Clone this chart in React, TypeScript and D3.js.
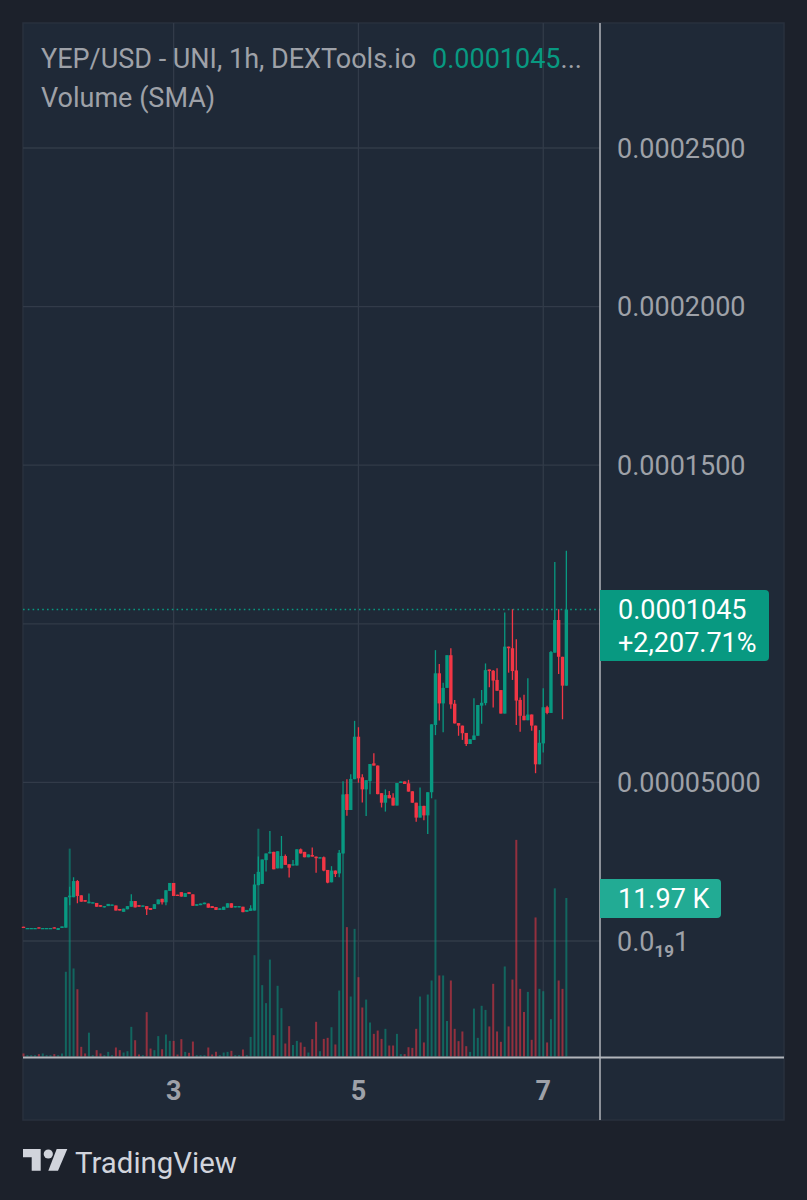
import React from "react";
import * as d3 from "d3";

// prices in millionths of a USD
const opens = [4.5,4.0,4.0,4.0,4.3,4.0,4.0,4.0,4.3,3.5,4.1,4.2,13.8,13.8,18.9,14.4,12.9,11.9,11.9,12.0,11.3,10.6,11.0,11.2,11.2,10.1,9.2,10.0,10.8,12.6,11.3,10.8,11.0,10.4,10.1,11.6,13.3,12.2,15.8,18.3,14.6,15.4,13.9,15.4,14.7,11.1,11.3,11.6,11.8,11.0,10.7,9.8,9.8,10.5,11.9,10.6,10.6,10.8,9.2,9.5,9.6,17.6,18.0,25.5,27.6,28.1,22.9,22.9,26.8,24.2,23.8,23.8,28.9,28.1,26.4,27.1,26.6,26.1,26.4,22.4,18.5,22.2,21.3,27.6,46.3,41.3,51.0,64.4,51.6,47.8,50.4,56.0,55.3,46.6,43.6,46.0,45.2,42.7,49.8,50.3,49.7,47.2,43.6,38.9,42.6,39.6,46.9,68.1,84.4,74.9,79.8,90.1,74.8,68.7,67.9,65.6,62.1,63.4,64.7,74.2,75.0,85.6,85.2,82.3,79.1,71.7,92.8,92.3,85.3,76.0,71.0,69.6,71.4,67.9,55.7,62.3,73.7,71.9,90.9,101.2,89.6,80.5];
const highs = [4.5,4.1,4.1,4.1,4.3,4.1,4.1,4.1,4.3,4.1,4.6,13.8,17.1,20.1,19.2,14.4,12.9,15.0,12.2,12.0,11.3,11.0,11.7,11.5,11.2,10.1,10.2,11.0,14.7,12.6,11.3,11.2,11.0,10.4,11.6,13.1,13.3,16.0,18.3,18.3,14.6,15.4,15.1,15.4,14.7,11.6,11.8,12.1,11.8,11.0,10.7,10.3,10.8,11.9,11.9,11.0,11.0,10.8,9.8,11.3,21.1,26.6,25.7,27.6,34.7,28.1,28.3,33.1,27.3,24.2,25.5,28.9,29.2,28.1,27.3,29.5,26.6,26.4,26.6,22.4,23.6,22.2,28.7,50.4,51.0,52.6,69.4,67.4,52.6,50.7,55.8,59.2,55.3,46.6,47.8,47.3,46.6,49.8,50.3,50.3,50.8,47.2,43.6,48.4,42.6,46.9,68.3,91.7,87.3,81.4,90.1,92.3,76.0,68.7,67.9,65.6,63.6,76.5,74.4,79.1,87.5,85.6,85.4,86.0,79.1,103.6,92.8,104.6,95.1,76.8,77.6,82.8,71.4,67.9,66.5,79.7,74.2,91.4,119.5,104.6,89.6,123.0];
const lows = [4.1,3.9,3.9,3.9,4.0,3.9,3.9,3.9,4.0,3.5,4.1,4.2,11.3,13.8,11.9,12.4,12.4,11.9,11.9,10.8,10.8,10.6,11.0,11.2,9.6,9.6,9.2,10.0,10.8,10.6,10.8,10.8,8.2,9.8,10.1,11.6,11.5,11.3,15.8,14.2,14.2,14.0,13.9,14.8,11.1,11.1,11.3,11.6,10.5,10.4,9.8,9.8,9.8,10.5,10.5,10.6,10.6,9.1,9.2,9.5,9.6,17.6,18.0,21.9,27.6,22.6,22.9,22.9,24.0,20.0,23.8,23.8,27.6,26.4,26.4,26.6,21.5,26.1,22.0,18.2,18.5,20.2,20.1,27.6,39.5,41.3,51.0,49.9,43.7,39.4,46.3,55.3,46.3,42.1,40.8,45.0,42.7,42.7,49.8,49.5,47.1,43.6,37.6,38.9,38.1,33.7,45.0,64.9,69.5,65.8,79.8,73.2,68.6,64.7,63.4,61.5,62.1,63.4,64.7,68.5,74.3,80.0,73.6,78.9,71.7,71.7,84.6,82.3,68.1,66.0,69.6,69.6,66.3,52.9,55.7,59.4,71.5,71.9,90.9,84.2,69.9,80.5];
const closes = [4.1,4.1,4.1,4.1,4.0,4.1,4.1,4.1,4.0,4.1,4.6,13.8,14.3,18.9,14.2,12.4,12.4,12.4,12.2,10.8,10.8,11.0,11.7,11.5,9.6,9.6,10.2,11.0,12.6,10.6,10.8,11.2,10.0,9.8,11.6,13.1,12.2,16.0,18.3,14.2,14.2,14.0,15.1,14.8,11.1,11.6,11.8,12.1,10.5,10.4,9.8,10.3,10.8,11.9,10.5,11.0,11.0,9.1,9.8,10.3,17.8,21.8,25.7,27.6,28.1,22.6,28.3,26.8,24.0,23.1,24.2,28.9,27.6,26.4,27.3,26.6,26.1,26.4,22.2,18.4,22.2,21.1,27.8,46.2,41.3,51.1,64.4,51.3,47.8,50.7,55.8,55.3,46.3,43.6,46.0,45.0,42.7,49.8,50.3,49.5,47.1,43.6,38.9,42.6,39.6,46.9,68.3,84.4,74.9,79.8,90.1,74.6,68.6,67.9,65.5,62.1,63.6,64.8,74.4,75.1,85.4,85.1,82.1,78.9,71.7,92.8,92.3,85.1,75.8,71.0,69.6,71.4,67.9,55.7,62.5,73.7,71.9,91.1,101.2,89.6,80.5,104.5];
// volume in thousands
const volumes = [0.23,0.1,0.1,0.1,0.18,0.23,0.1,0.1,0.18,0.1,0.23,6.4,15.7,6.65,5.08,0.73,0.23,1.8,0.1,0.48,0.23,0.1,0.35,0.1,0.68,0.48,0.3,0.4,2.24,1.23,0.15,0.1,3.35,0.6,0.48,1.54,0.55,1.66,1.18,1.18,0.15,1.31,0.35,0.28,1.13,0.1,0.1,0.1,0.68,0.15,0.35,0.1,0.3,0.35,0.43,0.1,0.1,0.53,0.1,1.48,7.65,17.2,5.39,4.03,7.32,1.61,5.34,3.65,0.98,2.29,0.86,1.18,1.06,0.73,0.3,1.31,2.62,0.4,1.33,1.41,2.21,0.91,4.98,16,9.77,4.53,9.64,5.99,3.7,4.3,2.57,1.71,1.96,1.33,2.09,0.83,0.83,1.71,0.18,0.18,0.7,0.65,2.09,4.53,1.06,4.68,5.74,19.4,6.12,6.12,2.69,5.74,2.09,1.16,1.89,0.78,0.35,3.62,1.41,3.83,3.52,2.27,5.49,1.89,1.11,6.8,2.27,5.81,16.36,5.11,3.37,4.88,1.26,10.5,5.11,4.93,1.06,2.82,12.7,5.74,5.11,11.97];

const priceTicks = [250, 200, 150, 100, 50];
const priceTickLabels = ["0.0002500", "0.0002000", "0.0001500", "0.0001000", "0.00005000"];
const dayTicks = [39, 87, 135];
const dayTickLabels = ["3", "5", "7"];

const W = 807, H = 1200;
const FONT = "Roboto, sans-serif";
const GREEN = "#089981";
const RED = "#f23645";
const GRID = "#323b49";
const TEXT = "#9ea1a8";
const FS = 27;

export default function App() {
  const x = d3.scaleLinear().domain([0, 141]).range([23.5, 566.35]);
  const y = d3.scaleLinear().domain([0, 250]).range([941, 148]);
  const yv = d3.scaleLinear().domain([0, 11.97]).range([1056.5, 898]);
  const last = closes[closes.length - 1];
  const idx = d3.range(opens.length);
  const col = (i: number) => (closes[i] >= opens[i] ? GREEN : RED);

  return (
    <svg width={W} height={H} viewBox={`0 0 ${W} ${H}`}
      style={{ position: "absolute", left: 0, top: 0, display: "block", fontFamily: FONT }}>
      <rect width={W} height={H} fill="#1c212b" />
      <rect x={23} y={23} width={761} height={1097} fill="#1f2937" stroke="#28303e" strokeWidth={1.5} />

      {[...priceTicks, 0].map((t) => (
        <line key={t} x1={23} x2={600} y1={y(t)} y2={y(t)} stroke={GRID} strokeWidth={1.3} />
      ))}
      {dayTicks.map((d) => (
        <line key={d} x1={x(d)} x2={x(d)} y1={23} y2={1057} stroke={GRID} strokeWidth={1.3} />
      ))}

      {/* volume */}
      {idx.map((i) => (
        <line key={i} x1={x(i)} x2={x(i)} y1={yv(0)} y2={yv(volumes[i])}
          stroke={col(i)} strokeOpacity={0.55} strokeWidth={2} />
      ))}

      {/* last price line */}
      <line x1={23} x2={600} y1={y(last)} y2={y(last)} stroke={GREEN} strokeWidth={1.4} strokeDasharray="1.6 3.2" />

      {/* candles */}
      {idx.map((i) => (
        <g key={i} fill={col(i)} stroke={col(i)}>
          <line x1={x(i)} x2={x(i)} y1={y(highs[i])} y2={y(lows[i])} strokeWidth={1.3} />
          <rect x={x(i) - 1.7} width={3.4} stroke="none"
            y={y(Math.max(opens[i], closes[i]))}
            height={Math.max(1.3, Math.abs(y(opens[i]) - y(closes[i])))} />
        </g>
      ))}

      {/* axes */}
      <line x1={600} x2={600} y1={23} y2={1120} stroke="#b2b5bb" strokeWidth={1.5} />
      <line x1={23} x2={784} y1={1057.5} y2={1057.5} stroke="#b2b5bb" strokeWidth={2} />

      {priceTicks.map((t, k) => (
        <text key={t} x={617} y={y(t)} dy="0.36em" fontSize={FS} fill={TEXT}>{priceTickLabels[k]}</text>
      ))}
      <text x={617} y={941} dy="0.36em" fontSize={FS} fill={TEXT}>
        0.0<tspan fontSize={17} fontWeight={700} dy={6}>19</tspan><tspan dy={-6}>1</tspan>
      </text>
      {dayTicks.map((d, k) => (
        <text key={d} x={x(d)} y={1090} dy="0.36em" textAnchor="middle" fontSize={FS} fontWeight={700} fill={TEXT}>{dayTickLabels[k]}</text>
      ))}

      {/* last price label */}
      <path d="M600 590 H765 a4 4 0 0 1 4 4 V657 a4 4 0 0 1 -4 4 H600 Z" fill={GREEN} />
      <text x={618} y={609.5} dy="0.36em" fontSize={FS} fill="#fff">0.0001045</text>
      <text x={618} y={642.5} dy="0.36em" fontSize={FS} fill="#fff">+2,207.71%</text>

      {/* volume label */}
      <path d="M600 879 H717 a4 4 0 0 1 4 4 V914 a4 4 0 0 1 -4 4 H600 Z" fill="#22ab94" />
      <text x={618} y={898.5} dy="0.36em" fontSize={FS} fill="#fff">11.97 K</text>

      {/* legend */}
      <text x={41} y={58} dy="0.36em" fontSize={FS} fill={TEXT}>YEP/USD - UNI, 1h, DEXTools.io</text>
      <text x={432} y={58} dy="0.36em" fontSize={FS} fill={GREEN}>0.0001045<tspan fill={TEXT}>...</tspan></text>
      <text x={41} y={97} dy="0.36em" fontSize={FS} fill={TEXT}>Volume (SMA)</text>

      {/* TradingView logo */}
      <g fill="#d1d4dc">
        <path d="M23 1149 H40.7 V1170.7 H31.7 V1157.3 H23 Z" />
        <circle cx={48.3} cy={1154} r={4.6} />
        <path d="M56.7 1149 H67.3 L58 1170.7 H48.3 Z" />
      </g>
      <text x={75} y={1162} dy="0.36em" fontSize={29.4} fill="#d1d4dc">TradingView</text>
    </svg>
  );
}
